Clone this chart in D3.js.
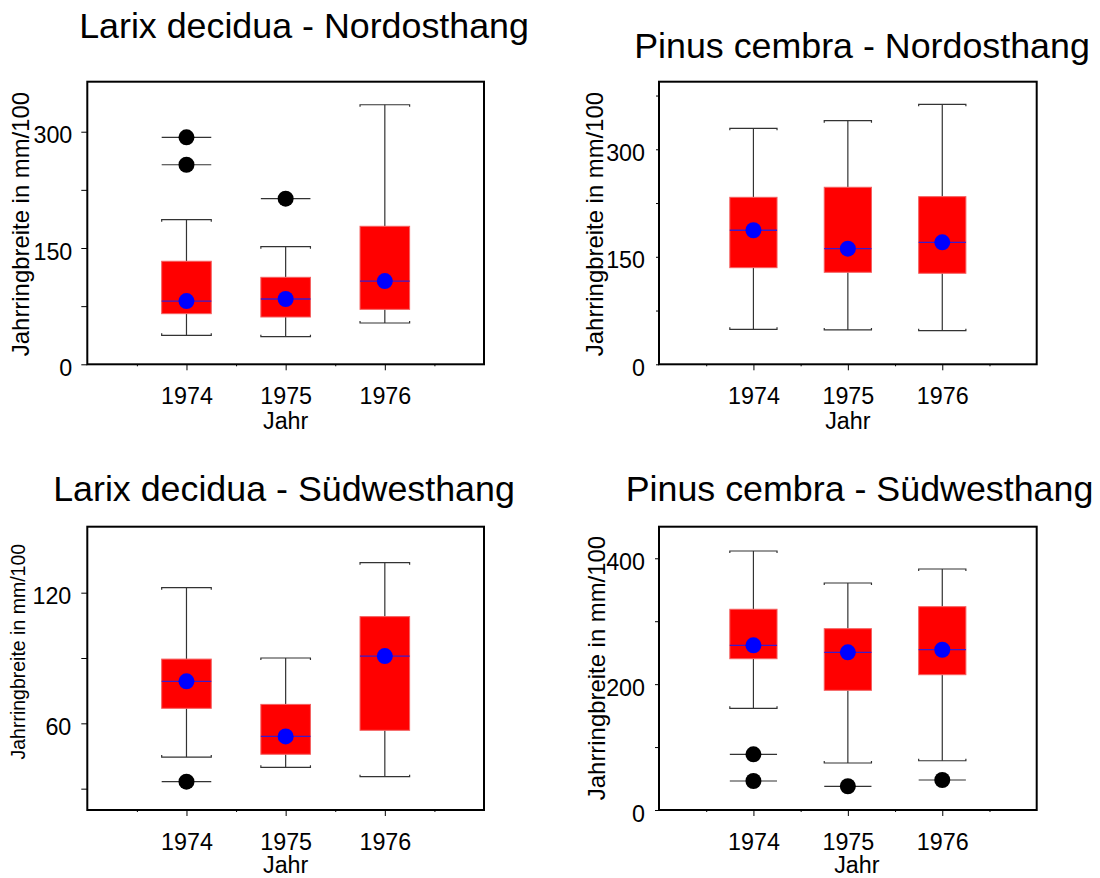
<!DOCTYPE html>
<html>
<head>
<meta charset="utf-8">
<script src="https://cdn.jsdelivr.net/npm/d3@7"></script>
<style>
  html, body { margin: 0; padding: 0; background: #fff; }
  svg { display: block; font-family: "Liberation Sans", Arial, sans-serif; }
</style>
</head>
<body>
<svg id="chart" width="1100" height="878"></svg>
<script>
// ---------- DATA ----------
const years = ["1974", "1975", "1976"];
const yAxisTitle = "Jahrringbreite in mm/100";
const xAxisTitle = "Jahr";

// Larix decidua - Nordosthang
const larixNO_title = "Larix decidua - Nordosthang";
const larixNO_low = [37.4, 35.6, 53.3];
const larixNO_q1 = [65.3, 61.0, 70.9];
const larixNO_median = [81.6, 84.2, 107.4];
const larixNO_q3 = [132.9, 112.2, 178.0];
const larixNO_high = [186.5, 151.7, 334.8];
const larixNO_outliers = [[0, 292.8], [0, 257.4], [1, 213.6]];
const larixNO_majorTicks = [0, 150, 300];
const larixNO_minorTicks = [75, 225];

// Pinus cembra - Nordosthang
const pinusNO_title = "Pinus cembra - Nordosthang";
const pinusNO_low = [48.8, 47.9, 46.9];
const pinusNO_q1 = [134.8, 128.4, 127.0];
const pinusNO_median = [187.0, 161.3, 170.2];
const pinusNO_q3 = [233.0, 247.0, 233.9];
const pinusNO_high = [329.3, 339.9, 362.8];
const pinusNO_outliers = [];
const pinusNO_majorTicks = [0, 150, 300];
const pinusNO_minorTicks = [75, 225, 375];

// Larix decidua - Südwesthang
const larixSW_title = "Larix decidua - Südwesthang";
const larixSW_low = [44.5, 39.8, 35.5];
const larixSW_q1 = [66.9, 45.8, 56.8];
const larixSW_median = [79.3, 54.0, 90.9];
const larixSW_q3 = [89.5, 68.7, 109.0];
const larixSW_high = [122.3, 90.0, 133.8];
const larixSW_outliers = [[0, 33.2]];
const larixSW_majorTicks = [60, 120];
const larixSW_minorTicks = [30, 90];

// Pinus cembra - Südwesthang
const pinusSW_title = "Pinus cembra - Südwesthang";
const pinusSW_low = [161.6, 74.7, 78.3];
const pinusSW_q1 = [240.4, 190.2, 215.0];
const pinusSW_median = [261.7, 250.6, 254.7];
const pinusSW_q3 = [319.0, 288.1, 323.1];
const pinusSW_high = [411.6, 360.7, 383.0];
const pinusSW_outliers = [[0, 88.5], [0, 46.1], [1, 37.7], [2, 47.7]];
const pinusSW_majorTicks = [0, 200, 400];
const pinusSW_minorTicks = [100, 300];

// ---------- LAYOUT ----------
const panels = [
  { title: larixNO_title, low: larixNO_low, q1: larixNO_q1, med: larixNO_median, q3: larixNO_q3, high: larixNO_high,
    out: larixNO_outliers, major: larixNO_majorTicks, minor: larixNO_minorTicks,
    domain: [0, 364.5], x0: 87.3, x1: 484, y0: 81.7, y1: 364.3,
    titleX: 304, titleY: 37.7, ylabX: 29, ylabY: 224, ylabSize: 23.9, ytick: 6, ypad: 9, jahrDx: 0, jahrDy: 65 },
  { title: pinusNO_title, low: pinusNO_low, q1: pinusNO_q1, med: pinusNO_median, q3: pinusNO_q3, high: pinusNO_high,
    out: pinusNO_outliers, major: pinusNO_majorTicks, minor: pinusNO_minorTicks,
    domain: [0, 394.3], x0: 659, x1: 1036.7, y0: 81.7, y1: 364.3,
    titleX: 862, titleY: 57.7, ylabX: 603, ylabY: 224, ylabSize: 23.9, ytick: 3, ypad: 11, jahrDx: 0, jahrDy: 65 },
  { title: larixSW_title, low: larixSW_low, q1: larixSW_q1, med: larixSW_median, q3: larixSW_q3, high: larixSW_high,
    out: larixSW_outliers, major: larixSW_majorTicks, minor: larixSW_minorTicks,
    domain: [20.2, 150.3], x0: 87.3, x1: 484, y0: 526.7, y1: 810,
    titleX: 284, titleY: 501, ylabX: 25, ylabY: 651.7, ylabSize: 19.5, ytick: 6, ypad: 10, jahrDx: 0, jahrDy: 63 },
  { title: pinusSW_title, low: pinusSW_low, q1: pinusSW_q1, med: pinusSW_median, q3: pinusSW_q3, high: pinusSW_high,
    out: pinusSW_outliers, major: pinusSW_majorTicks, minor: pinusSW_minorTicks,
    domain: [0, 450.2], x0: 659, x1: 1036.7, y0: 526.7, y1: 810,
    titleX: 859.5, titleY: 501, ylabX: 605, ylabY: 668, ylabSize: 23.9, ytick: 4, ypad: 10, jahrDx: 9, jahrDy: 63 }
];

const svg = d3.select("#chart");
svg.append("rect").attr("width", 1100).attr("height", 878).attr("fill", "#fff");

const tickFont = 23.3;
const boxHalf = 0.25;

panels.forEach(p => {
  const g = svg.append("g");
  const x = d3.scaleLinear().domain([0, 4]).range([p.x0, p.x1]);
  const y = d3.scaleLinear().domain(p.domain).range([p.y1, p.y0]);
  const idx = years.map((d, i) => i);

  // title
  g.append("text").attr("x", p.titleX).attr("y", p.titleY)
    .attr("text-anchor", "middle").attr("font-size", 35.8).attr("fill", "#000")
    .text(p.title);

  // y axis label
  g.append("text")
    .attr("transform", `translate(${p.ylabX},${p.ylabY}) rotate(-90)`)
    .attr("text-anchor", "middle").attr("font-size", p.ylabSize).attr("fill", "#000")
    .text(yAxisTitle);

  // y axis (major, labelled)
  const yAx = g.append("g").attr("transform", `translate(${p.x0},0)`)
    .call(d3.axisLeft(y).tickValues(p.major).tickSize(p.ytick).tickPadding(p.ypad).tickFormat(d3.format("d")));
  yAx.select(".domain").remove();
  yAx.selectAll("line").attr("stroke", "#000").attr("stroke-width", 1);
  yAx.selectAll("text").attr("font-size", tickFont).attr("font-family", "Liberation Sans, Arial, sans-serif")
    .attr("fill", "#000").attr("dy", "0.48em");

  // y minor ticks
  const yMin = g.append("g").attr("transform", `translate(${p.x0},0)`)
    .call(d3.axisLeft(y).tickValues(p.minor).tickSize(p.ytick).tickFormat(""));
  yMin.select(".domain").remove();
  yMin.selectAll("line").attr("stroke", "#000").attr("stroke-width", 1);

  // x axis
  const xAx = g.append("g").attr("transform", `translate(0,${p.y1})`)
    .call(d3.axisBottom(x).tickValues([1, 2, 3]).tickSize(6).tickPadding(17).tickFormat(d => years[d - 1]));
  xAx.select(".domain").remove();
  xAx.selectAll("line").attr("stroke", "#000").attr("stroke-width", 1);
  xAx.selectAll("text").attr("font-size", tickFont).attr("font-family", "Liberation Sans, Arial, sans-serif")
    .attr("fill", "#000");

  const xMin = g.append("g").attr("transform", `translate(0,${p.y1})`)
    .call(d3.axisBottom(x).tickValues([0.5, 1.5, 2.5, 3.5]).tickSize(2).tickFormat(""));
  xMin.select(".domain").remove();
  xMin.selectAll("line").attr("stroke", "#000").attr("stroke-width", 1);

  // x axis title
  g.append("text").attr("x", x(2) + p.jahrDx).attr("y", p.y1 + p.jahrDy)
    .attr("text-anchor", "middle").attr("font-size", tickFont).attr("fill", "#000")
    .text(xAxisTitle);

  // whiskers
  const wg = g.append("g").attr("stroke", "#333").attr("stroke-width", 1.2).attr("fill", "none");
  wg.selectAll("line.up").data(idx).join("line")
    .attr("x1", i => x(i + 1)).attr("x2", i => x(i + 1))
    .attr("y1", i => y(p.q3[i])).attr("y2", i => y(p.high[i]));
  wg.selectAll("line.dn").data(idx).join("line")
    .attr("x1", i => x(i + 1)).attr("x2", i => x(i + 1))
    .attr("y1", i => y(p.q1[i])).attr("y2", i => y(p.low[i]));
  // caps with small end ticks
  wg.selectAll("path.capHi").data(idx).join("path")
    .attr("d", i => {
      const a = x(i + 1 - boxHalf), b = x(i + 1 + boxHalf), yy = y(p.high[i]);
      return `M${a},${yy + 2}V${yy}H${b}V${yy + 2}`;
    });
  wg.selectAll("path.capLo").data(idx).join("path")
    .attr("d", i => {
      const a = x(i + 1 - boxHalf), b = x(i + 1 + boxHalf), yy = y(p.low[i]);
      return `M${a},${yy - 2}V${yy}H${b}V${yy - 2}`;
    });

  // boxes
  g.selectAll("rect.box").data(idx).join("rect")
    .attr("x", i => x(i + 1 - boxHalf))
    .attr("width", i => x(i + 1 + boxHalf) - x(i + 1 - boxHalf))
    .attr("y", i => y(p.q3[i]))
    .attr("height", i => y(p.q1[i]) - y(p.q3[i]))
    .attr("fill", "#ff0000").attr("stroke", "#f46060").attr("stroke-width", 1);

  // median lines
  g.selectAll("line.med").data(idx).join("line")
    .attr("x1", i => x(i + 1 - boxHalf)).attr("x2", i => x(i + 1 + boxHalf))
    .attr("y1", i => y(p.med[i])).attr("y2", i => y(p.med[i]))
    .attr("stroke", "#3a1acc").attr("stroke-width", 1.3);

  // median dots
  g.selectAll("circle.med").data(idx).join("circle")
    .attr("cx", i => x(i + 1)).attr("cy", i => y(p.med[i])).attr("r", 8)
    .attr("fill", "#0000ff");

  // outliers
  const og = g.append("g");
  og.selectAll("line").data(p.out).join("line")
    .attr("x1", d => x(d[0] + 1 - boxHalf)).attr("x2", d => x(d[0] + 1 + boxHalf))
    .attr("y1", d => y(d[1])).attr("y2", d => y(d[1]))
    .attr("stroke", "#333").attr("stroke-width", 1.2);
  og.selectAll("circle").data(p.out).join("circle")
    .attr("cx", d => x(d[0] + 1)).attr("cy", d => y(d[1])).attr("r", 8)
    .attr("fill", "#000");

  // frame
  g.append("rect").attr("x", p.x0).attr("y", p.y0)
    .attr("width", p.x1 - p.x0).attr("height", p.y1 - p.y0)
    .attr("fill", "none").attr("stroke", "#000").attr("stroke-width", 2);
});
</script>
</body>
</html>
